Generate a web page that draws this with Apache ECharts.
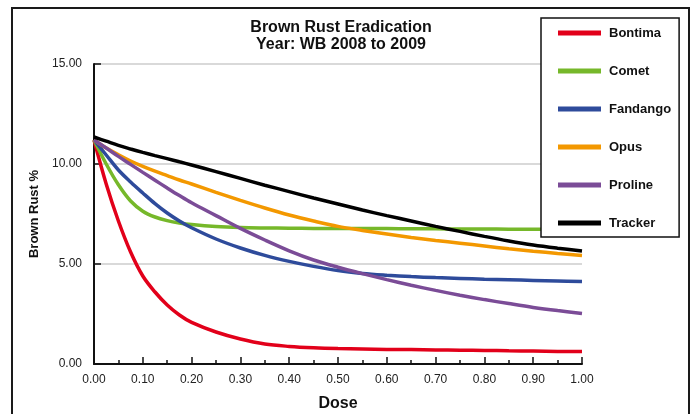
<!DOCTYPE html>
<html>
<head>
<meta charset="utf-8">
<script src="https://cdn.jsdelivr.net/npm/echarts@6/dist/echarts.min.js"></script>
<style>
html,body{margin:0;padding:0;background:#fff;}
#c{width:696px;height:414px;}
</style>
</head>
<body>
<div id="c"></div>
<script>
var doses    = [0, 0.025, 0.05, 0.075, 0.1, 0.125, 0.15, 0.175, 0.2, 0.25, 0.3, 0.35, 0.4, 0.45, 0.5, 0.55, 0.6, 0.65, 0.7, 0.75, 0.8, 0.85, 0.9, 0.95, 1.0];
var bontima  = [11.2, 9.0, 7.15, 5.6, 4.4, 3.6, 2.95, 2.45, 2.08, 1.6, 1.25, 1.0, 0.88, 0.81, 0.77, 0.75, 0.73, 0.72, 0.7, 0.69, 0.68, 0.66, 0.65, 0.63, 0.62];
var comet    = [11.2, 10.0, 8.96, 8.15, 7.64, 7.35, 7.17, 7.05, 6.97, 6.87, 6.82, 6.8, 6.79, 6.78, 6.78, 6.77, 6.77, 6.76, 6.76, 6.75, 6.75, 6.74, 6.74, 6.74, 6.73];
var fandango = [11.2, 10.45, 9.7, 9.1, 8.55, 8.02, 7.55, 7.15, 6.81, 6.25, 5.8, 5.43, 5.13, 4.88, 4.67, 4.53, 4.44, 4.37, 4.32, 4.28, 4.24, 4.21, 4.18, 4.15, 4.12];
var opus     = [11.2, 10.8, 10.46, 10.15, 9.88, 9.64, 9.42, 9.2, 9.0, 8.58, 8.18, 7.8, 7.45, 7.15, 6.88, 6.68, 6.5, 6.33, 6.18, 6.04, 5.9, 5.76, 5.64, 5.53, 5.43];
var proline  = [11.2, 10.8, 10.38, 9.98, 9.58, 9.19, 8.8, 8.42, 8.06, 7.42, 6.78, 6.2, 5.66, 5.2, 4.84, 4.52, 4.22, 3.94, 3.68, 3.44, 3.22, 3.02, 2.83, 2.67, 2.53];
var tracker  = [11.35, 11.14, 10.93, 10.75, 10.58, 10.42, 10.27, 10.11, 9.95, 9.62, 9.28, 8.94, 8.62, 8.3, 8.0, 7.7, 7.42, 7.15, 6.88, 6.63, 6.38, 6.15, 5.95, 5.79, 5.65];
var seriesNames = ['Bontima', 'Comet', 'Fandango', 'Opus', 'Proline', 'Tracker'];
var seriesColors = ['#E2001A', '#76B82A', '#2E4B9B', '#F39800', '#7B4C97', '#000000'];
var seriesValues = [bontima, comet, fandango, opus, proline, tracker];
var yTicks = [0, 5, 10, 15];

var FONT = 'Arial, "Liberation Sans", sans-serif';
var chart = echarts.init(document.getElementById('c'), null, {renderer: 'canvas'});

function pairs(vals) {
  return doses.map(function (d, i) { return [d, vals[i]]; });
}

var series = seriesNames.map(function (n, i) {
  return {
    name: n,
    type: 'line',
    data: pairs(seriesValues[i]),
    smooth: 0.35,
    showSymbol: false,
    symbol: 'none',
    lineStyle: {color: seriesColors[i], width: 3.5},
    itemStyle: {color: seriesColors[i]},
    z: 2 + i * 0.01
  };
});

chart.setOption({
  animation: false,
  backgroundColor: '#fff',
  title: {
    text: 'Brown Rust Eradication\nYear: WB 2008 to 2009',
    left: 336,
    top: 14,
    textAlign: 'center',
    textStyle: {fontFamily: FONT, fontSize: 16, fontWeight: 'bold', color: '#111', lineHeight: 17}
  },
  graphic: [{
    type: 'rect',
    shape: {x: 12, y: 8, width: 677, height: 430},
    style: {fill: 'none', stroke: '#1a1a1a', lineWidth: 2},
    z: 0,
    silent: true
  }],
  legend: {
    orient: 'vertical',
    left: 541,
    top: 18,
    icon: 'rect',
    itemWidth: 43,
    itemHeight: 5,
    itemGap: 24,
    padding: [8, 8, 7, 17],
    backgroundColor: '#fff',
    borderColor: '#111',
    borderWidth: 1.5,
    data: seriesNames,
    textStyle: {fontFamily: FONT, fontSize: 13, fontWeight: 'bold', color: '#111', lineHeight: 14, padding: [0, 0, 0, 3]}
  },
  grid: {left: 94, right: 114, top: 64, bottom: 50, containLabel: false, outerBoundsMode: 'none'},
  xAxis: {
    type: 'value',
    min: 0, max: 1, interval: 0.1,
    name: 'Dose',
    nameLocation: 'middle',
    nameGap: 32,
    nameTextStyle: {fontFamily: FONT, fontSize: 16, fontWeight: 'bold', color: '#111'},
    axisLine: {show: true, lineStyle: {color: '#111', width: 2}},
    axisTick: {show: true, inside: true, length: 7, lineStyle: {color: '#111', width: 1.5}},
    minorTick: {show: true, splitNumber: 2, length: 4, lineStyle: {color: '#111', width: 1.5}},
    axisLabel: {fontFamily: FONT, fontSize: 12, color: '#222', margin: 10, formatter: function (v) { return v.toFixed(2); }},
    splitLine: {show: false}
  },
  yAxis: {
    type: 'value',
    min: yTicks[0], max: yTicks[yTicks.length - 1], interval: 5,
    name: 'Brown Rust %',
    nameLocation: 'middle',
    nameGap: 52,
    nameTextStyle: {fontFamily: FONT, fontSize: 13, fontWeight: 'bold', color: '#111'},
    axisLine: {show: true, lineStyle: {color: '#111', width: 2}},
    axisTick: {show: true, inside: true, length: 7, lineStyle: {color: '#111', width: 1.5}},
    axisLabel: {fontFamily: FONT, fontSize: 12, color: '#222', margin: 12, formatter: function (v) { return v.toFixed(2); }},
    splitLine: {show: true, lineStyle: {color: '#cccccc', width: 1.5}}
  },
  series: series
});
</script>
</body>
</html>
